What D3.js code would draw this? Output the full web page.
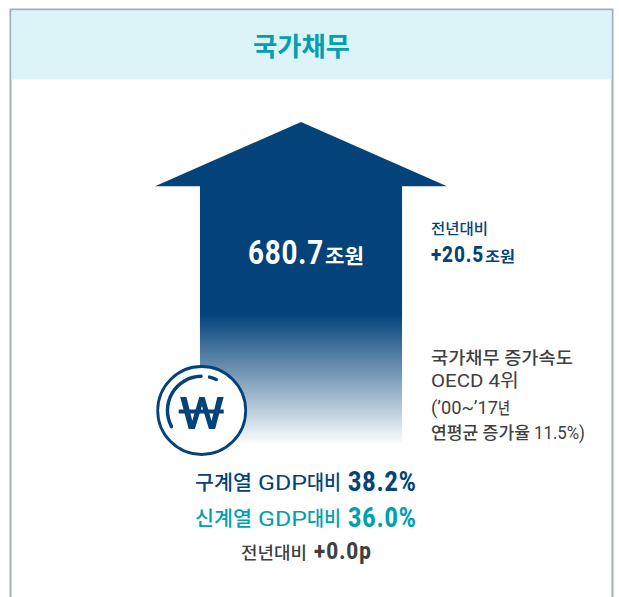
<!DOCTYPE html>
<html lang="ko">

<head>
    <meta charset="UTF-8">
    <title>국가채무</title>
    <style>
        * {
            margin: 0;
            padding: 0
        }

        body {
            background: #fff;
        }

        svg {
            display: block;
        }

        text {
            font-family: Roboto, "Noto Sans CJK KR", sans-serif;
        }
    </style>
</head>

<body>
    <svg id="chart" width="619" height="597"></svg>

    <script src="https://d3js.org/d3.v7.min.js"></script>
    <script>
        const title = '국가채무';
        const debtValue = 680.7;
        const debtUnit = '조원';
        const changeLabel = '전년대비';
        const changeValue = '+20.5';
        const speedLines = ['국가채무 증가속도', 'OECD 4위'];
        const noteParts = ['(’00~’17', '년', '연평균 증가율', '11.5%)'];
        const gdpNames = ['구계열', '신계열'];
        const gdpWords = ['GDP', '대비'];
        const gdpValues = ['38.2%', '36.0%'];
        const gdpChange = '+0.0p';

        const navy = '#03437a', teal = '#00a0b0', grey = '#404040';

        const svg = d3.select('#chart');

        // 프레임과 헤더
        svg.append('rect').attr('x', 10.5).attr('y', 9.5).attr('width', 602).attr('height', 600)
            .attr('fill', '#fff').attr('stroke', '#a3afb8').attr('stroke-width', 2);
        svg.append('rect').attr('x', 11.5).attr('y', 10.5).attr('width', 600).attr('height', 69)
            .attr('fill', '#dcf4f7');

        // 화살표: 높이는 값에서 계산
        const y = d3.scaleLinear().domain([0, debtValue]).range([443, 122]);
        const x = d3.scaleLinear().domain([-1, 1]).range([155, 447]);
        const shaftHalf = 0.692;
        const shoulder = y(debtValue * 0.8);

        const grad = svg.append('defs').append('linearGradient')
            .attr('id', 'arrow-fade')
            .attr('gradientUnits', 'userSpaceOnUse')
            .attr('x1', 0).attr('x2', 0)
            .attr('y1', y(debtValue * 0.4)).attr('y2', y(0));
        grad.append('stop').attr('offset', '0%').attr('stop-color', navy);
        grad.append('stop').attr('offset', '100%').attr('stop-color', navy).attr('stop-opacity', 0.02);

        const arrow = d3.line();
        svg.append('path')
            .attr('d', arrow([
                [x(0), y(debtValue)],
                [x(1), shoulder],
                [x(shaftHalf), shoulder],
                [x(shaftHalf), y(0)],
                [x(-shaftHalf), y(0)],
                [x(-shaftHalf), shoulder],
                [x(-1), shoulder]
            ]) + 'Z')
            .attr('fill', 'url(#arrow-fade)');

        // 글자를 x0~x1 폭에 맞춰 가로로 눌러서 그림 (원본 글꼴이 장체라서)
        function label(txt, x0, x1, py, size, weight, color, spacing) {
            const t = svg.append('text')
                .attr('font-size', size)
                .attr('font-weight', weight)
                .attr('letter-spacing', spacing || 0)
                .attr('fill', color)
                .text(txt);
            const w = t.node().getComputedTextLength();
            t.attr('transform', `translate(${x0},${py}) scale(${(x1 - x0) / w},1)`);
        }

        label(title, 253, 350, 56, 26, 700, teal);

        label(debtValue.toFixed(1), 248, 324, 264, 34, 700, '#fff', 1);
        label(debtUnit, 325, 364, 264, 20.5, 700, '#fff');

        label(changeLabel, 431, 488, 234, 15, 500, navy);
        label(changeValue, 431, 484, 262, 22, 800, navy, 1);
        label(debtUnit, 485, 515, 262, 15, 700, navy);

        label(speedLines[0], 431, 573, 364, 17, 500, grey);
        label(speedLines[1], 431, 519, 387, 18, 400, grey);
        label(noteParts[0], 431, 498, 414, 18, 400, grey);
        label(noteParts[1], 498, 510, 414, 16, 500, grey);
        label(noteParts[2], 431, 530, 439, 16.5, 500, grey);
        label(noteParts[3], 534, 585, 439, 18, 400, grey);

        [navy, teal].forEach((color, i) => {
            const py = 490 + i * 36;
            label(gdpNames[i], 195, 252, py, 20, 500, color);
            label(gdpWords[0], 258, 307, py, 21, 400, color);
            label(gdpWords[1], 307, 341, py, 20, 500, color);
            label(gdpValues[i], 348, 417, py + 1, 27, 800, color, 1.2);
        });
        label(changeLabel, 241, 307, 559, 16.5, 500, grey);
        label(gdpChange, 314, 372, 559, 23, 800, grey, 1.2);

        // 원화 아이콘
        const icon = svg.append('g').attr('transform', 'translate(201.7,410.5)');
        icon.append('circle').attr('r', 44).attr('fill', '#fff')
            .attr('stroke', navy).attr('stroke-width', 2.8);
        const arc = d3.arc().innerRadius(32.5).outerRadius(36).cornerRadius(1.7);
        icon.append('path').attr('fill', navy)
            .attr('d', arc({ startAngle: -2.11, endAngle: 0.03 }));
        icon.append('path').attr('fill', navy)
            .attr('d', arc({ startAngle: 0.18, endAngle: 0.49 }));
        icon.append('text').attr('text-anchor', 'middle')
            .attr('transform', 'translate(0,18.5) scale(1.15,1)')
            .attr('font-size', 45).attr('font-weight', 500).attr('fill', navy)
            .text('W');
        icon.append('line').attr('x1', -23).attr('x2', 22).attr('y1', 1).attr('y2', 1)
            .attr('stroke', navy).attr('stroke-width', 4);
    </script>
</body>

</html>
